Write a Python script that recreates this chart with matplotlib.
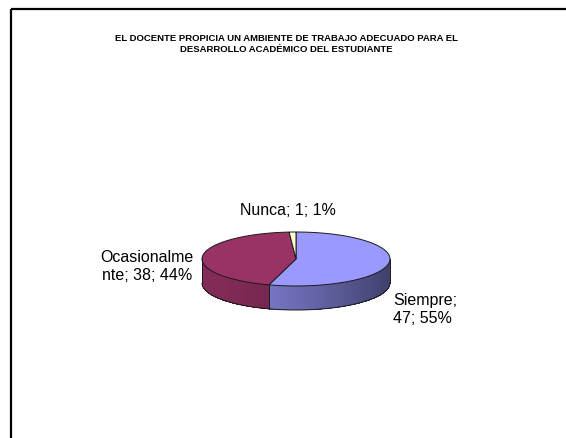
import numpy as np
import matplotlib.pyplot as plt
from matplotlib.patches import Polygon, Rectangle
from matplotlib.colors import to_rgb

categories = ["Siempre", "Ocasionalmente", "Nunca"]
values = [47, 38, 1]
colors = ["#9999FF", "#993366", "#FFFFCC"]
# labels as wrapped in the original chart
label_texts = ["Siempre;\n47; 55%", "Ocasionalme\nnte; 38; 44%", "Nunca; 1; 1%"]
title = ("EL DOCENTE PROPICIA UN AMBIENTE DE TRABAJO ADECUADO PARA EL\n"
         "DESARROLLO ACADÉMICO DEL ESTUDIANTE")

plt.rcParams['font.family'] = ['Liberation Sans', 'DejaVu Sans']

fig = plt.figure(figsize=(5.66, 4.39), dpi=100)
ax = fig.add_axes([0, 0, 1, 1])
ax.set_xlim(0, 566)
ax.set_ylim(439, 0)
ax.axis('off')

# outer frame
ax.add_patch(Rectangle((11, 10), 600, 500, fill=False, ec='black', lw=1.6))

# pie geometry (pixels)
cx, cy, a, b, depth = 296, 260, 94, 27, 24
edge = '#1a1a1a'


def pt(t, dz=0.0):
    return (cx + a * np.cos(t), cy - b * np.sin(t) + dz)


fracs = np.array(values) / sum(values)
starts = []
t = np.pi / 2
for f in fracs:
    starts.append((t, t - 2 * np.pi * f))  # clockwise
    t -= 2 * np.pi * f

# sides (front half only), shaded strip by strip
for (t1, t2), col in zip(starts, colors):
    base = np.array(to_rgb(col))
    ts = np.linspace(t2, t1, 120)
    for i in range(len(ts) - 1):
        ta, tb = ts[i], ts[i + 1]
        if np.sin((ta + tb) / 2) > 0:
            continue
        c = np.cos((ta + tb) / 2)
        k = 0.86 - 0.44 * ((c + 1) / 2) ** 1.5
        poly = [pt(ta - 0.004), pt(tb + 0.004), pt(tb + 0.004, depth), pt(ta - 0.004, depth)]
        ax.add_patch(Polygon(poly, closed=True, fc=base * k, lw=0, antialiased=False))
    front = ts[np.sin(ts) <= 0]
    if len(front) > 1:
        xs, ys = zip(*[pt(v, depth) for v in front])
        ax.plot(xs, ys, color=edge, lw=0.7)

# vertical edges of the side
for tv in [np.pi, 0.0] + [s[1] for s in starts]:
    if np.sin(tv) <= 1e-9:
        p0, p1 = pt(tv), pt(tv, depth)
        ax.plot([p0[0], p1[0]], [p0[1], p1[1]], color=edge, lw=0.7)

# top faces
for (t1, t2), col in zip(starts, colors):
    ts = np.linspace(t1, t2, 200)
    poly = [(cx, cy)] + [pt(v) for v in ts]
    ax.add_patch(Polygon(poly, closed=True, fc=col, ec=edge, lw=0.7))

# data labels
label_pos = [(393, 310, 'left'), (147, 267, 'center'), (288, 211, 'center')]
for txt, (x, y, ha) in zip(label_texts, label_pos):
    ax.text(x, y, txt, fontsize=11.5, ha=ha, va='center', linespacing=1.25)

ax.text(286, 44, title, fontsize=6.8, fontweight='bold', ha='center',
        va='center', linespacing=1.2)

fig.savefig('out.png', dpi=100)
